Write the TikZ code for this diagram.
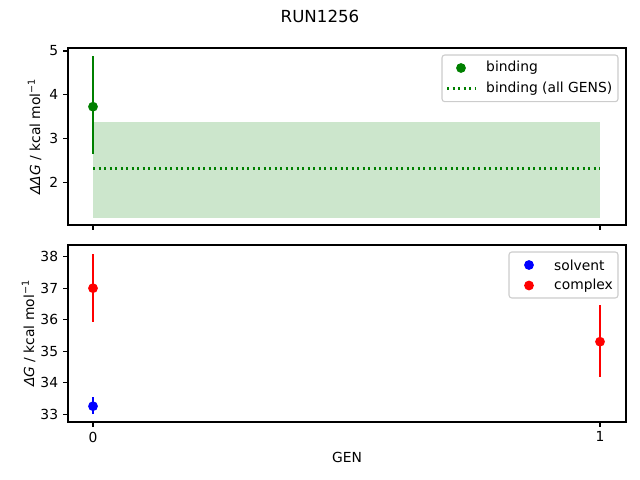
\documentclass[tikz,border=0pt]{standalone}
\usepackage{fontspec}
\setmainfont{DejaVu Sans}
\definecolor{mplgreen}{RGB}{0,128,0}
\definecolor{mplblue}{RGB}{0,0,255}
\definecolor{mplred}{RGB}{255,0,0}
\definecolor{bandgreen}{RGB}{204,230,204}
\definecolor{legendedge}{RGB}{204,204,204}
\tikzset{
  spine/.style={line width=1.1bp},
  tickmark/.style={line width=1.1bp},
  ticklabel/.style={font=\fontsize{13.9}{16}\selectfont, inner sep=0pt},
  axislabel/.style={font=\fontsize{13.9}{16}\selectfont, inner sep=0pt},
  errbar/.style={line width=2.1bp},
  datapt/.style={circle, inner sep=0pt, minimum size=9.8bp, fill=#1},
  legendbox/.style={draw=legendedge, fill=white, rounded corners=2.8bp, line width=1.1bp},
  legendtext/.style={font=\fontsize{13.9}{16}\selectfont, inner sep=0pt, anchor=west},
}
\begin{document}
\begin{tikzpicture}[x=1bp, y=1bp]
	\useasboundingbox (0,0) rectangle (640,480);
	% title and shared x label
	\node[font=\fontsize{16.7}{19}\selectfont] (title) at (320,464) {RUN1256};
	\node[axislabel] (xlab) at (347,22.5) {GEN};
	% top axes: binding
	\begin{scope}[shift={(93bp,210.5bp)}, x=507bp, y=43.7bp]
		\fill[bandgreen] (0,1.18) rectangle (1,3.38);
		\draw[mplgreen, line width=2.1bp, dash pattern=on 2.1bp off 3.4bp] (0,2.31) -- (1,2.31);
		\coordinate (b0hi) at (0,4.89);
		\coordinate (b0lo) at (0,2.64);
		\draw[errbar, mplgreen] (b0lo) -- (b0hi);
		\node[datapt=mplgreen] (b0) at (0,3.725) {};
		\foreach \v in {2,3,4,5} {
			\draw[tickmark] (-25bp,\v) -- ++(-4.86bp,0);
			\node[ticklabel, anchor=east] (ty\v) at ([xshift=-34.7bp]0,\v) {\v};
		}
	\end{scope}
	\foreach \gx in {93,600}
		\draw[tickmark] (\gx,255) -- ++(0,-4.86);
	\draw[spine] (68,255) rectangle (626,432);
	\node[axislabel, rotate=90, anchor=south] (ylabtop) at (41.5,343.5)
		{\textit{ΔΔG} / kcal mol\textsuperscript{−1}};
	% top legend
	\draw[legendbox] (442,378.3) rectangle (618,425);
	\node[datapt=mplgreen] (lgbind) at (461,412) {};
	\node[legendtext] (lgbindtxt) at (486,412) {binding};
	\coordinate (lgalla) at (447,391.5);
	\coordinate (lgallb) at (475,391.5);
	\draw[mplgreen, line width=2.1bp, dash pattern=on 2.1bp off 3.4bp] (lgalla) -- (lgallb);
	\node[legendtext] (lgalltxt) at (486,391.5) {binding (all GENS)};
	% bottom axes: solvent and complex
	\begin{scope}[shift={(93bp,-972.6bp)}, x=507bp, y=31.47bp]
		\coordinate (s0hi) at (0,33.53);
		\coordinate (s0lo) at (0,33.0);
		\draw[errbar, mplblue] (s0lo) -- (s0hi);
		\node[datapt=mplblue] (s0) at (0,33.25) {};
		\coordinate (c0hi) at (0,38.1);
		\coordinate (c0lo) at (0,35.94);
		\draw[errbar, mplred] (c0lo) -- (c0hi);
		\node[datapt=mplred] (c0) at (0,37.0) {};
		\coordinate (c1hi) at (1,36.47);
		\coordinate (c1lo) at (1,34.19);
		\draw[errbar, mplred] (c1lo) -- (c1hi);
		\node[datapt=mplred] (c1) at (1,35.3) {};
		\foreach \v in {33,34,...,38} {
			\draw[tickmark] (-25bp,\v) -- ++(-4.86bp,0);
			\node[ticklabel, anchor=east] (by\v) at ([xshift=-34.7bp]0,\v) {\v};
		}
	\end{scope}
	\foreach \g/\gx in {0/93,1/600} {
		\draw[tickmark] (\gx,58) -- ++(0,-4.86);
		\node[ticklabel, anchor=north] (bx\g) at (\gx,48.3) {\g};
	}
	\draw[spine] (68,58) rectangle (626,235);
	\node[axislabel, rotate=90, anchor=south] (ylabbot) at (35.5,146.5)
		{\textit{ΔG} / kcal mol\textsuperscript{−1}};
	% bottom legend
	\draw[legendbox] (509,182) rectangle (618,228);
	\node[datapt=mplblue] (lgsolv) at (529,215) {};
	\node[legendtext] (lgsolvtxt) at (554,215) {solvent};
	\node[datapt=mplred] (lgcplx) at (529,194.5) {};
	\node[legendtext] (lgcplxtxt) at (554,194.5) {complex};
\end{tikzpicture}
\end{document}
